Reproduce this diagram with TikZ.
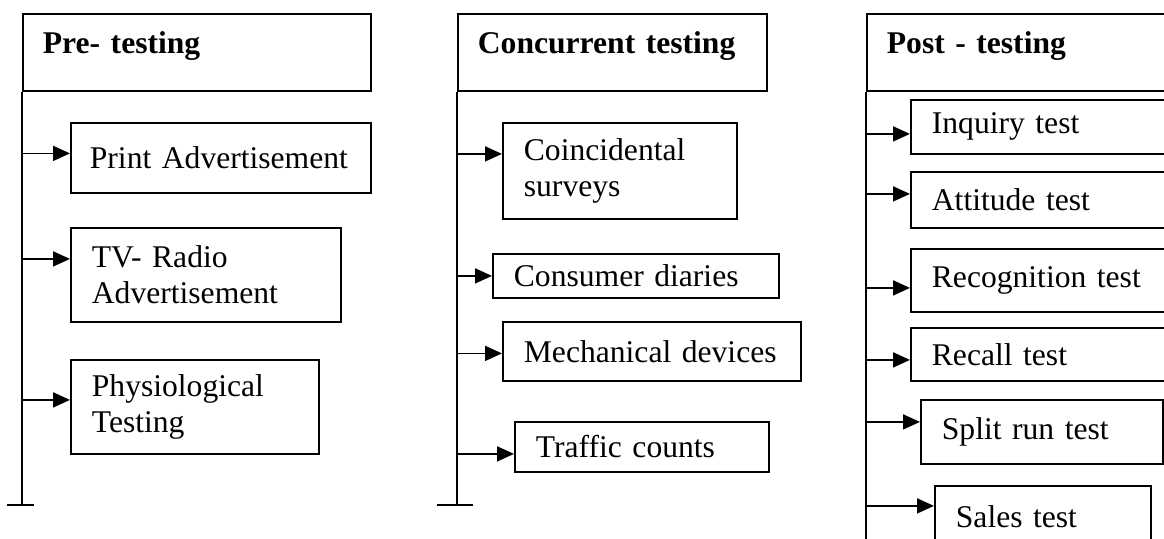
\documentclass[tikz,border=0pt]{standalone}
\usepackage{fontspec}
\setmainfont{Liberation Serif}
\usetikzlibrary{arrows.meta}

\tikzset{
  head/.style={draw, anchor=north west, align=left, inner xsep=10pt, inner ysep=9pt,
    text height=11pt, text depth=9.5pt, font=\fontsize{15.8}{18}\selectfont\bfseries},
  item/.style={draw, anchor=north west, align=left, inner xsep=10.5pt, inner ysep=2pt,
    font=\fontsize{15.8}{18}\selectfont},
  arr/.style={-{Triangle[length=8.5pt,width=7.5pt]}},
}

\begin{document}
\begin{tikzpicture}[x=0.5pt,y=-0.5pt,line width=0.9pt]
\useasboundingbox (0,0) rectangle (1164,538);
\clip (0,0) rectangle (1164,538);
% Headers
\node[head,text width=154pt] (pre) at (22,13) {Pre- testing};
\node[head,text width=134.5pt] (con) at (457,13) {Concurrent testing};
\node[head,text width=155pt] (post) at (866,13) {Post - testing};
% Pre-testing
\node[item,inner xsep=9.5pt,text width=131pt,minimum height=35pt] (pa) at (70,122) {Print Advertisement};
\node[item,text width=114pt,minimum height=47pt] (tv) at (70,227) {TV- Radio\\Advertisement};
\node[item,text width=103pt,minimum height=47pt] (phys) at (70,359) {Physiological\\Testing};
% Concurrent testing
\node[item,text width=96pt,minimum height=48pt] (coin) at (502,122) {Coincidental\\surveys};
\node[item,text width=122pt,minimum height=22pt] (diary) at (492,253) {Consumer diaries};
\node[item,text width=128pt,minimum height=29.5pt] (mech) at (502,321) {Mechanical devices};
\node[item,text width=106pt,minimum height=25pt] (traf) at (514,421) {Traffic counts};
% Post-testing
\node[item,text width=129pt,minimum height=27pt] (inq) at (910,99) {Inquiry test};
\node[item,text width=129pt,minimum height=28pt] (att) at (910,171) {Attitude test};
\node[item,text width=129pt,minimum height=31.5pt] (recog) at (910,248) {Recognition test};
\node[item,text width=129pt,minimum height=26.5pt] (recall) at (910,327) {Recall test};
\node[item,text width=100pt,minimum height=32pt] (split) at (920,399) {Split run test};
\node[item,text width=87pt,minimum height=31pt] (sales) at (934,485) {Sales test};
% Trunks
\coordinate (e1) at (22,505);
\coordinate (e2) at (457,505);
\coordinate (e3) at (866,545);
\draw (pre.south west) -- (e1);
\draw ([xshift=-7.5pt]e1) -- ([xshift=6pt]e1);
\draw (con.south west) -- (e2);
\draw ([xshift=-10pt]e2) -- ([xshift=8pt]e2);
\draw (post.south west) -- (e3);
% Arrow ends
\coordinate (a1) at ([yshift=2.25pt]pa.west);
\coordinate (a2) at ([yshift=8pt]tv.west);
\coordinate (a3) at ([yshift=3.5pt]phys.west);
\coordinate (b1) at ([yshift=8.5pt]coin.west);
\coordinate (b2) at (diary.west);
\coordinate (b3) at ([yshift=-1pt]mech.west);
\coordinate (b4) at ([yshift=-3.5pt]traf.west);
\coordinate (c1) at ([yshift=-3.5pt]inq.west);
\coordinate (c2) at ([yshift=3pt]att.west);
\coordinate (c3) at ([yshift=-3.75pt]recog.west);
\coordinate (c4) at ([yshift=-2.75pt]recall.west);
\coordinate (c5) at ([yshift=5pt]split.west);
\coordinate (c6) at ([yshift=5.5pt]sales.west);
% Arrows
\draw[arr] (pre.south west |- a1) -- (a1);
\draw[arr] (pre.south west |- a2) -- (a2);
\draw[arr] (pre.south west |- a3) -- (a3);
\draw[arr] (con.south west |- b1) -- (b1);
\draw[arr] (con.south west |- b2) -- (b2);
\draw[arr] (con.south west |- b3) -- (b3);
\draw[arr] (con.south west |- b4) -- (b4);
\draw[arr] (post.south west |- c1) -- (c1);
\draw[arr] (post.south west |- c2) -- (c2);
\draw[arr] (post.south west |- c3) -- (c3);
\draw[arr] (post.south west |- c4) -- (c4);
\draw[arr] (post.south west |- c5) -- (c5);
\draw[arr] (post.south west |- c6) -- (c6);
\end{tikzpicture}
\end{document}
